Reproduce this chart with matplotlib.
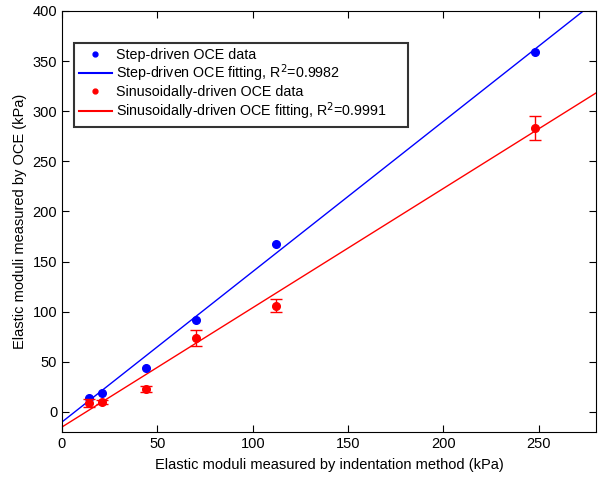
import matplotlib
matplotlib.use("Agg")
import matplotlib.pyplot as plt
from matplotlib.lines import Line2D
import numpy as np

plt.rcParams['font.family'] = ['Liberation Sans', 'DejaVu Sans']

# Step-driven OCE data
step_x = [14, 21, 44, 70, 112, 248]
step_y = [14, 18.5, 44, 92, 167.5, 359.5]
# Sinusoidally-driven OCE data
sin_x = [14, 21, 44, 70, 112, 248]
sin_y = [9, 9.5, 23, 74, 106, 283]
sin_err = [4, 2, 3, 8, 6.5, 12]
# Linear fits (slope, intercept)
step_fit = (1.50, -10.0)
sin_fit = (1.19, -15.0)
fit_x = [0, 280]

xticks = [0, 50, 100, 150, 200, 250]
yticks = [0, 50, 100, 150, 200, 250, 300, 350, 400]

labels = ['Step-driven OCE data',
          'Step-driven OCE fitting, R$^2$=0.9982',
          'Sinusoidally-driven OCE data',
          'Sinusoidally-driven OCE fitting, R$^2$=0.9991']

fig = plt.figure(figsize=(6.02, 4.82), dpi=100)
ax = fig.add_axes([62/602, 50/482, (596-62)/602, (432-11)/482])

fx = np.array(fit_x, dtype=float)
ax.plot(step_x, step_y, 'o', color='blue', ms=5.5, mec='blue', linestyle='none', zorder=3)
ax.plot(fx, step_fit[0]*fx + step_fit[1], '-', color='blue', lw=1.0)
ax.errorbar(sin_x, sin_y, yerr=sin_err, fmt='o', color='red', ms=5.5, capsize=4,
            elinewidth=1.0, capthick=1.0, zorder=3)
ax.plot(fx, sin_fit[0]*fx + sin_fit[1], '-', color='red', lw=1.0)

ax.set_xlim(0, 280)
ax.set_ylim(-20, 400)
ax.set_xticks(xticks)
ax.set_yticks(yticks)
ax.tick_params(direction='in', top=True, right=True, length=5, labelsize=10.5, width=0.8)
for s in ax.spines.values():
    s.set_linewidth(0.8)

ax.set_xlabel('Elastic moduli measured by indentation method (kPa)', fontsize=10.5, labelpad=5)
ax.set_ylabel('Elastic moduli measured by OCE (kPa)', fontsize=10.5)

handles = [Line2D([], [], marker='o', color='blue', ms=3.5, linestyle='none'),
           Line2D([], [], color='blue', lw=1.5),
           Line2D([], [], marker='o', color='red', ms=3.5, linestyle='none'),
           Line2D([], [], color='red', lw=1.5)]
leg = ax.legend(handles, labels, loc='upper left',
                bbox_to_anchor=(0.022, 0.0, 0.6255, 0.925), mode='expand',
                fontsize=10.3, frameon=True, fancybox=False, edgecolor='black',
                handlelength=2.3, handletextpad=0.3, labelspacing=0.08,
                borderpad=0.35, borderaxespad=0)
leg.get_frame().set_linewidth(1.5)

fig.savefig('out.png', dpi=100)
